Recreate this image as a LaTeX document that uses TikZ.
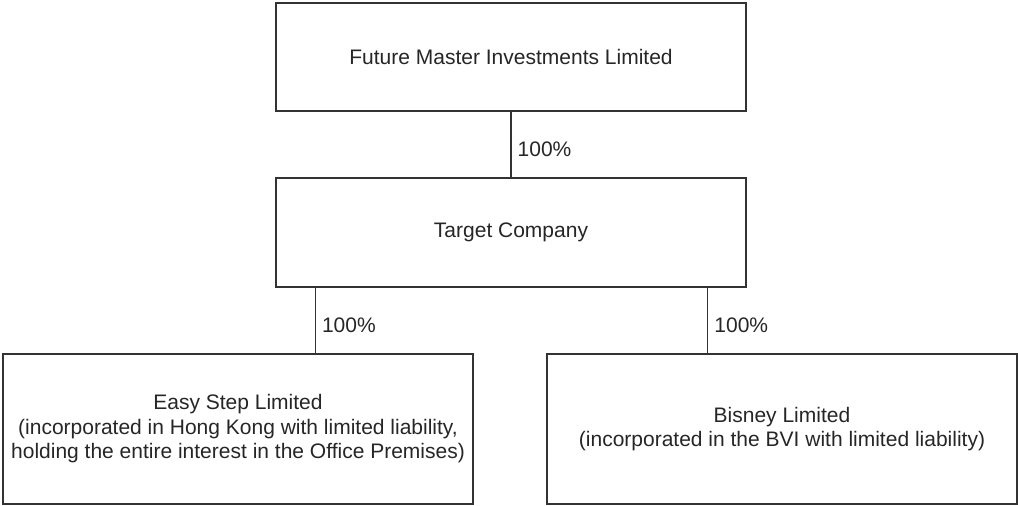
\documentclass[tikz,border=0pt]{standalone}
\usepackage{fontspec}
\setmainfont{Liberation Sans}
\usepackage{xcolor}
\colorlet{box-line}{black!80}
\colorlet{box-text}{black!85}
\tikzset{
	company/.style={draw=box-line, line width=1.4pt, text=box-text, minimum width=470pt, align=center, inner sep=0pt, font=\fontsize{21}{24.5}\selectfont},
	share/.style={draw=box-line, line width=1.4pt},
	stake/.style={right, text=box-text, inner sep=6pt, font=\fontsize{21}{24.5}\selectfont}
}

\begin{document}
\begin{tikzpicture}[x=1pt,y=1pt]
	\useasboundingbox (0,0) rectangle (1018,506);
	% holding company and target
	\node[company, minimum height=108pt] (fmil) at (511,449) {Future Master Investments Limited};
	\node[company, minimum height=109pt] (target) at (511,273.5) {Target Company};
	% subsidiaries
	\node[company, minimum height=150pt] (easystep) at (238,77) {Easy Step Limited\\(incorporated in Hong Kong with limited liability,\\holding the entire interest in the Office Premises)};
	\node[company, minimum height=150pt] (bisney) at (782,77) {Bisney Limited\\(incorporated in the BVI with limited liability)};
	% shareholdings
	\draw[share] (fmil) -- (target) node[stake, pos=0.58] {100\%};
	\draw[share] ([xshift=40pt]target.south west) coordinate (easytop) -- (easytop |- easystep.north) node[stake, pos=0.57] {100\%};
	\draw[share] ([xshift=-39pt]target.south east) coordinate (bisneytop) -- (bisneytop |- bisney.north) node[stake, pos=0.57] {100\%};
\end{tikzpicture}
\end{document}
